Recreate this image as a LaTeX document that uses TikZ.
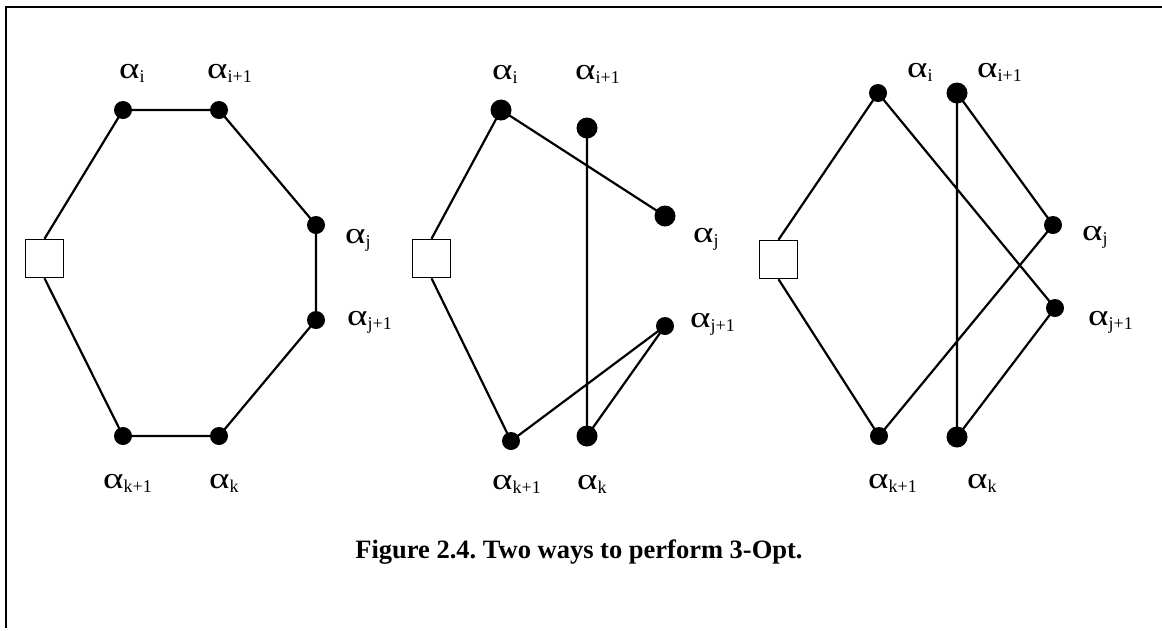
\documentclass[tikz,border=0pt]{standalone}
\usepackage{fontspec}
\setmainfont{Liberation Serif}
\frenchspacing
\newcommand\al[1]{\scalebox{1.3}[1]{α}\raisebox{-4pt}{\fontsize{18}{18}\selectfont #1}}
\begin{document}
\begin{tikzpicture}[x=1pt,y=-1pt,
  vtx/.style={circle,fill=black,inner sep=0pt,minimum size=18pt},
  bigvtx/.style={circle,fill=black,inner sep=0pt,minimum size=21pt},
  sqbox/.style={draw=black,line width=1.5pt,fill=white,minimum size=38pt,inner sep=0pt},
  lbl/.style={anchor=base west,inner sep=0pt,font=\fontsize{30}{30}\selectfont},
  conn/.style={line width=2.2pt},
  captxt/.style={anchor=base,inner sep=0pt,font=\fontsize{26.5}{28}\selectfont\bfseries}]
\useasboundingbox (0,0) rectangle (1162,630);
\coordinate (fbl) at (6,628);
\coordinate (ftl) at (6,7);
\coordinate (ftr) at (1162,7);
\draw[line width=1.8pt] (fbl) -- (ftl) -- (ftr);
% panel 1
\node[sqbox] (s1) at (44.5,258.5) {};
\node[vtx] (a1i) at (123,110) {};
\node[vtx] (a1ip) at (219,110) {};
\node[vtx] (a1j) at (316,225) {};
\node[vtx] (a1jp) at (316,320) {};
\node[vtx] (a1kp) at (123,436) {};
\node[vtx] (a1k) at (219,436) {};
\draw[conn] (s1.north) -- (a1i.center) -- (a1ip.center) -- (a1j.center) -- (a1jp.center) -- (a1k.center) -- (a1kp.center) -- (s1.south);
\node[lbl] (l1i) at (119,78) {\al{i}};
\node[lbl] (l1ip) at (207,78) {\al{i+1}};
\node[lbl] (l1j) at (345,243) {\al{j}};
\node[lbl] (l1jp) at (347,325) {\al{j+1}};
\node[lbl] (l1kp) at (103,488) {\al{k+1}};
\node[lbl] (l1k) at (209,488) {\al{k}};
% panel 2
\node[sqbox] (s2) at (431.5,258.5) {};
\node[bigvtx] (a2i) at (501,110) {};
\node[bigvtx] (a2ip) at (587,128) {};
\node[bigvtx] (a2j) at (665,216) {};
\node[vtx] (a2jp) at (665,326) {};
\node[vtx] (a2kp) at (511,441) {};
\node[bigvtx] (a2k) at (587,436) {};
\draw[conn] (s2.north) -- (a2i.center) -- (a2j.center);
\draw[conn] (a2ip.center) -- (a2k.center) -- (a2jp.center) -- (a2kp.center) -- (s2.south);
\node[lbl] (l2i) at (492,79) {\al{i}};
\node[lbl] (l2ip) at (575,79) {\al{i+1}};
\node[lbl] (l2j) at (693,242) {\al{j}};
\node[lbl] (l2jp) at (690,327) {\al{j+1}};
\node[lbl] (l2kp) at (492,489) {\al{k+1}};
\node[lbl] (l2k) at (577,489) {\al{k}};
% panel 3
\node[sqbox] (s3) at (778.5,259.5) {};
\node[vtx] (a3i) at (878,93) {};
\node[bigvtx] (a3ip) at (957,93) {};
\node[vtx] (a3j) at (1053,225) {};
\node[vtx] (a3jp) at (1055,308) {};
\node[vtx] (a3kp) at (879,436) {};
\node[bigvtx] (a3k) at (957,437) {};
\draw[conn] (s3.north) -- (a3i.center) -- (a3jp.center) -- (a3k.center) -- (a3ip.center) -- (a3j.center) -- (a3kp.center) -- (s3.south);
\node[lbl] (l3i) at (907,77) {\al{i}};
\node[lbl] (l3ip) at (977,77) {\al{i+1}};
\node[lbl] (l3j) at (1082,240) {\al{j}};
\node[lbl] (l3jp) at (1088,325) {\al{j+1}};
\node[lbl] (l3kp) at (868,488) {\al{k+1}};
\node[lbl] (l3k) at (967,488) {\al{k}};
% caption
\node[captxt] (caption) at (579,558) {Figure 2.4. Two ways to perform 3-Opt.};
\end{tikzpicture}
\end{document}
